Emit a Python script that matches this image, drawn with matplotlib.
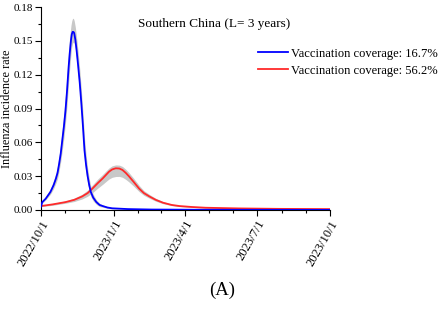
import numpy as np
import pandas as pd
import matplotlib
matplotlib.use("Agg")
import matplotlib.pyplot as plt
import matplotlib.dates as mdates

plt.rcParams['font.family'] = ['Liberation Serif', 'DejaVu Serif']

start = pd.Timestamp('2022-10-01')

# blue: vaccination coverage 16.7%
blue_days = [0, 1.7, 6, 12, 16, 19, 21, 23, 25, 27, 29, 31, 33, 35, 36.5, 38, 39, 40, 41, 42, 43.5, 45, 47, 49, 51, 53, 55, 57, 59, 61, 63, 66, 70, 74, 78, 84, 90, 110, 140, 200, 365]
blue_mid = [0.003, 0.007, 0.010, 0.016, 0.022, 0.028, 0.033, 0.041, 0.050, 0.062, 0.074, 0.088, 0.106, 0.127, 0.140, 0.151, 0.156, 0.158, 0.158, 0.157, 0.151, 0.142, 0.128, 0.113, 0.095, 0.075, 0.053, 0.040, 0.030, 0.022, 0.016, 0.011, 0.007, 0.0045, 0.0035, 0.0022, 0.0015, 0.0008, 0.0004, 0.0002, 0.0001]
blue_lo = [0.0025, 0.006, 0.009, 0.014, 0.019, 0.024, 0.028, 0.035, 0.043, 0.053, 0.064, 0.077, 0.093, 0.113, 0.127, 0.139, 0.145, 0.148, 0.149, 0.148, 0.143, 0.134, 0.119, 0.103, 0.084, 0.064, 0.044, 0.032, 0.024, 0.017, 0.012, 0.008, 0.005, 0.003, 0.0025, 0.0015, 0.001, 0.0005, 0.0003, 0.0001, 0.0]
blue_hi = [0.0035, 0.008, 0.012, 0.019, 0.026, 0.033, 0.039, 0.048, 0.059, 0.072, 0.086, 0.102, 0.121, 0.142, 0.155, 0.164, 0.168, 0.170, 0.170, 0.168, 0.162, 0.153, 0.140, 0.125, 0.107, 0.087, 0.064, 0.049, 0.037, 0.028, 0.021, 0.014, 0.009, 0.006, 0.0045, 0.003, 0.002, 0.0011, 0.0006, 0.0003, 0.0002]

# red: vaccination coverage 56.2%
red_days = [0, 15, 31, 42, 52, 59, 65, 72, 78, 82, 86, 90, 94.5, 99, 103, 107, 111, 117, 124, 130, 137, 145, 154, 165, 175, 190, 208, 250, 300, 365]
red_mid = [0.0035, 0.005, 0.007, 0.009, 0.012, 0.015, 0.019, 0.024, 0.028, 0.031, 0.034, 0.036, 0.037, 0.0368, 0.0355, 0.033, 0.030, 0.025, 0.019, 0.015, 0.012, 0.009, 0.0065, 0.0045, 0.0035, 0.0027, 0.002, 0.0014, 0.001, 0.0008]
red_lo = [0.003, 0.0042, 0.006, 0.0075, 0.0098, 0.0122, 0.0153, 0.0195, 0.0228, 0.0252, 0.0275, 0.0290, 0.0297, 0.0298, 0.0290, 0.0272, 0.0250, 0.0212, 0.0163, 0.0130, 0.0104, 0.0078, 0.0056, 0.0039, 0.0030, 0.0023, 0.0017, 0.0012, 0.0008, 0.0006]
red_hi = [0.004, 0.0058, 0.008, 0.0105, 0.0140, 0.0176, 0.0222, 0.0276, 0.0316, 0.0345, 0.0373, 0.0392, 0.0400, 0.0398, 0.0386, 0.0362, 0.0333, 0.0282, 0.0218, 0.0172, 0.0138, 0.0104, 0.0075, 0.0052, 0.0040, 0.0031, 0.0023, 0.0016, 0.0012, 0.0010]

labels = ['Vaccination coverage: 16.7%', 'Vaccination coverage: 56.2%']
title = 'Southern China (L= 3 years)'
tick_dates = ['2022-10-01', '2023-01-01', '2023-04-01', '2023-07-01', '2023-10-01']
tick_labels = ['2022/10/1', '2023/1/1', '2023/4/1', '2023/7/1', '2023/10/1']

fig = plt.figure(figsize=(4.4, 3.09), dpi=100)
ax = fig.add_axes([0.093, 0.3204, 0.657, 0.6566])

bx = start + pd.to_timedelta(blue_days, unit='D')
rx = start + pd.to_timedelta(red_days, unit='D')

ax.fill_between(bx, blue_lo, blue_hi, color='#c8c8c8', lw=0, zorder=1)
ax.fill_between(rx, red_lo, red_hi, color='#c8c8c8', lw=0, zorder=1)
ax.plot(bx, blue_mid, color='#0000ff', lw=1.3, label=labels[0], zorder=3)
ax.plot(rx, red_mid, color='#ff2a2a', lw=1.3, label=labels[1], zorder=2)

ax.set_xlim(start, pd.Timestamp('2023-10-01'))
ax.set_ylim(0, 0.18)
ax.set_yticks(np.arange(0, 0.181, 0.03))
ax.set_yticks(np.arange(0.015, 0.18, 0.03), minor=True)
ax.yaxis.set_major_formatter(plt.FormatStrFormatter('%.2f'))
ax.set_xticks([pd.Timestamp(d) for d in tick_dates])
ax.set_xticklabels(tick_labels, rotation=60, ha='right', rotation_mode='anchor')
ax.xaxis.set_minor_locator(mdates.MonthLocator())
ax.tick_params(axis='y', labelsize=8, length=4, width=0.8, pad=1.5)
ax.tick_params(axis='x', labelsize=9, length=4, width=0.8, pad=2)
ax.tick_params(which='minor', length=2.5, width=0.8)
ax.spines['top'].set_visible(False)
ax.spines['right'].set_visible(False)
ax.set_ylabel('Influenza incidence rate', fontsize=8.8)
ax.yaxis.set_label_coords(-0.097, 0.5)

ax.text(0.60, 0.915, title, transform=ax.transAxes, ha='center', va='center', fontsize=9.5)
ax.legend(loc='upper left', bbox_to_anchor=(0.75, 0.80), frameon=False, fontsize=9,
          handlelength=2.4, handletextpad=0.25, labelspacing=0.4, borderaxespad=0, borderpad=0)

fig.text(0.505, 0.06, '(A)', ha='center', va='center', fontsize=13.5)

fig.savefig('out.png', dpi=100)
